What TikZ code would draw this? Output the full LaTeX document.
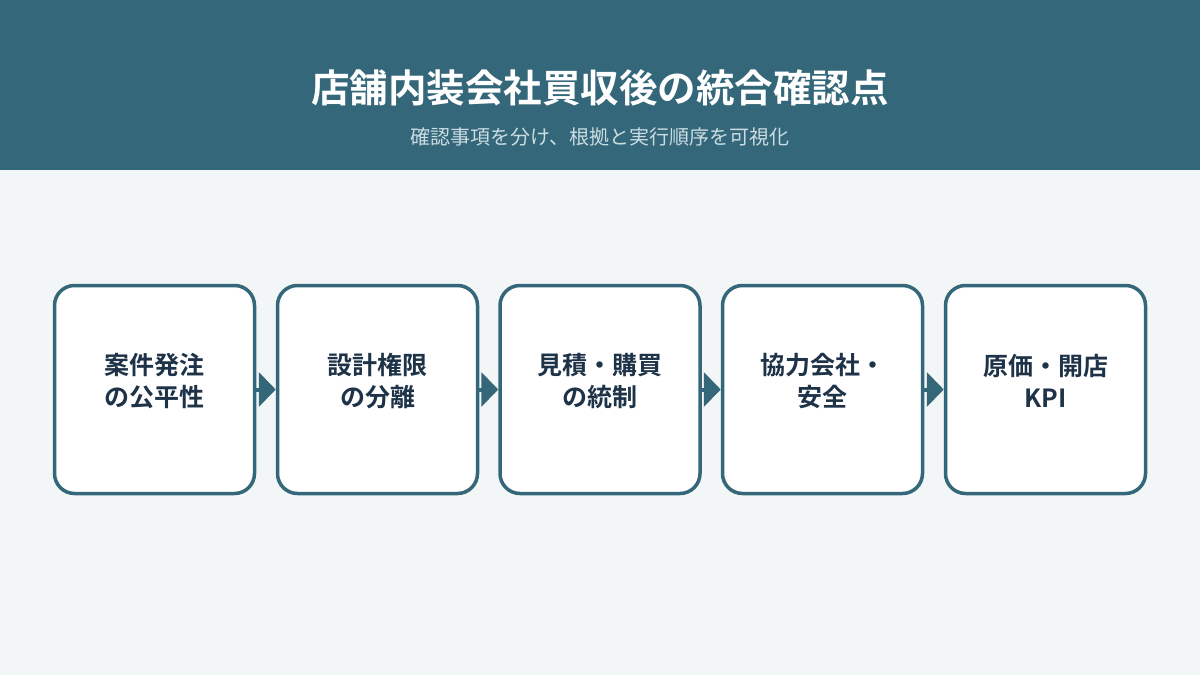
\documentclass[tikz,border=0pt]{standalone}
\usepackage{fontspec}
\newfontfamily\cjk{Noto Sans CJK JP}
\newfontfamily\cjkb{Noto Sans CJK JP Bold}
\usetikzlibrary{arrows.meta}
\definecolor{hdr}{HTML}{336779}
\definecolor{bg}{HTML}{F3F6F7}
\definecolor{edge}{HTML}{336779}
\definecolor{ink}{HTML}{1E3348}
\definecolor{sub}{HTML}{CBDCE2}
\tikzset{
  card/.style={draw=edge, line width=3.5pt, fill=white, rounded corners=20pt,
    minimum width=200pt, minimum height=208pt, inner sep=0pt},
  cardtext/.style={text=ink, font=\cjkb\fontsize{25}{32}\selectfont, align=center},
  link/.style={draw=edge, line width=4pt, -{Triangle[length=17pt,width=34pt]}}
}
\begin{document}
\begin{tikzpicture}[x=1pt,y=-1pt]
\useasboundingbox (0,0) rectangle (1200,675);
\fill[bg] (0,0) rectangle (1200,675);
\fill[hdr] (0,0) rectangle (1200,170);
\node[text=white, font=\cjkb\fontsize{38.5}{42}\selectfont] (title) at (600,88) {店舗内装会社買収後の統合確認点};
\node[text=sub, font=\cjk\fontsize{20}{24}\selectfont] (subtitle) at (600,137) {確認事項を分け、根拠と実行順序を可視化};
\foreach \i/\x/\t in {1/154.5/{案件発注\\の公平性},2/377.5/{設計権限\\の分離},3/600/{見積・購買\\の統制},4/822.5/{協力会社・\\安全},5/1045.5/{原価・開店\\KPI}}{
  \node[card] (b\i) at (\x,389.5) {};
  \node[cardtext] (t\i) at (\x,381) {\t};
}
\foreach \a/\b in {1/2,2/3,3/4,4/5}{
  \draw[link] (b\a.east) -- (b\b.west);
}
\end{tikzpicture}
\end{document}
